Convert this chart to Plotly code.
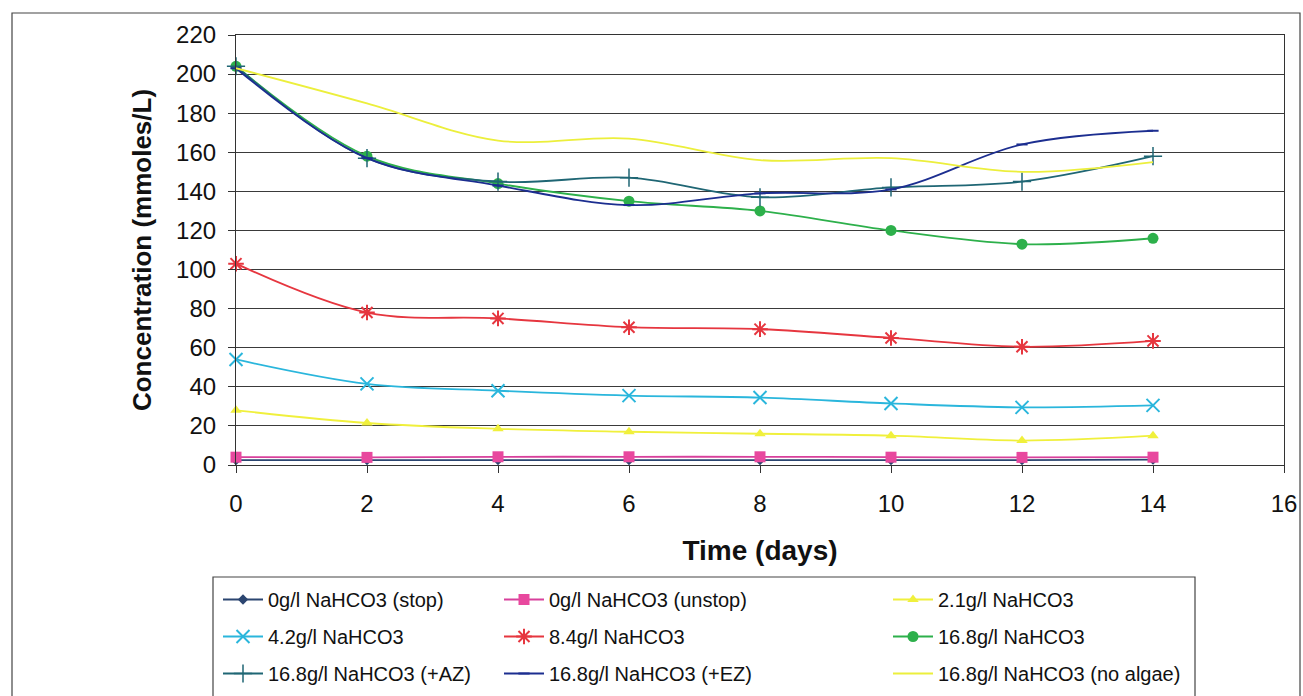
import plotly.graph_objects as go

# Sampling days
days = [0, 2, 4, 6, 8, 10, 12, 14]

# Concentration (mmoles/L) for each treatment
stop_0 = [2.5, 2.5, 2.5, 2.5, 2.5, 2.5, 2.5, 2.8]
unstop_0 = [4.0, 3.9, 4.2, 4.2, 4.2, 4.0, 3.9, 4.0]
nahco3_21 = [28, 21.5, 18.5, 17, 16, 15, 12.5, 15]
nahco3_42 = [54, 41.5, 38, 35.5, 34.5, 31.5, 29.5, 30.5]
nahco3_84 = [103, 78, 75, 70.5, 69.5, 65, 60.5, 63.5]
nahco3_168 = [204, 158, 144, 135, 130, 120, 113, 116]
nahco3_168_az = [204, 157, 145, 147, 137, 142, 145, 158]
nahco3_168_ez = [203, 157, 143, 133, 139, 141, 164, 171]
nahco3_168_noalgae = [203, 185, 166, 167, 156, 157, 150, 155]

names = [
    "0g/l NaHCO3 (stop)", "0g/l NaHCO3 (unstop)", "2.1g/l NaHCO3",
    "4.2g/l NaHCO3", "8.4g/l NaHCO3", "16.8g/l NaHCO3",
    "16.8g/l NaHCO3 (+AZ)", "16.8g/l NaHCO3 (+EZ)", "16.8g/l NaHCO3 (no algae)",
]
series = [stop_0, unstop_0, nahco3_21, nahco3_42, nahco3_84, nahco3_168,
          nahco3_168_az, nahco3_168_ez, nahco3_168_noalgae]

# (line colour, marker symbol, marker size, marker line width, marker colour)
styles = [
    ("#2B4570", "diamond", 8, 0, "#2B4570"),
    ("#D8409C", "square", 11, 0, "#E8489E"),
    ("#F0F03C", "triangle-up", 10, 0, "#F0F03C"),
    ("#2AB6DC", "x-thin-open", 13, 2, "#2AB6DC"),
    ("#E6363F", "asterisk-open", 13, 2, "#E6363F"),
    ("#2DB04B", "circle", 11, 0, "#2DB04B"),
    ("#1F6674", "cross-thin-open", 13, 1.5, "#1F6674"),
    ("#1C2E90", "line-ew-open", 8, 2, "#1C2E90"),
    ("#ECEF3C", None, 0, 0, "#ECEF3C"),
]

# three legend columns, filled row by row
legend_ids = ["legend", "legend2", "legend3"]

FONT = "Liberation Sans, Arial, sans-serif"

fig = go.Figure()
for i, (name, ys, st) in enumerate(zip(names, series, styles)):
    color, symbol, msize, mlw, mcolor = st
    kw = dict(
        x=days, y=ys, name=name,
        line=dict(color=color, width=1.8, shape="spline", smoothing=1.0),
        legend=legend_ids[i % 3], legendgroup=f"g{i}",
        cliponaxis=False,
    )
    if symbol is None:
        kw["mode"] = "lines"
    else:
        kw["mode"] = "lines+markers"
        kw["marker"] = dict(symbol=symbol, size=msize, color=mcolor,
                            line=dict(width=mlw, color=mcolor))
    fig.add_trace(go.Scatter(**kw))

# Plot area geometry in pixels
W, H = 1303, 696
L, R, T, B = 236, 1284, 35, 465
pw, ph = R - L, B - T


def px(xp):
    return (xp - L) / pw


def py(yp):
    return (B - yp) / ph


legend_common = dict(
    bgcolor="rgba(0,0,0,0)", borderwidth=0,
    font=dict(family=FONT, size=20, color="#111"),
    yanchor="top", xanchor="left", y=py(580),
    traceorder="grouped", tracegroupgap=8, itemwidth=40,
)

fig.update_layout(
    width=W, height=H,
    margin=dict(l=L, r=W - R, t=T, b=H - B, pad=0, autoexpand=False),
    paper_bgcolor="white", plot_bgcolor="white",
    font=dict(family=FONT, color="#111"),
    legend=dict(x=px(218), **legend_common),
    legend2=dict(x=px(499), **legend_common),
    legend3=dict(x=px(888), **legend_common),
    xaxis=dict(
        range=[0, 16], dtick=2, tick0=0,
        showgrid=False, zeroline=False,
        showline=True, linecolor="#333", linewidth=1.2, mirror=True,
        ticks="outside", ticklen=7, tickcolor="#333",
        ticklabelstandoff=10,
        tickfont=dict(family=FONT, size=24, color="#111"),
        title=dict(text="<b>Time (days)</b>", font=dict(family=FONT, size=28, color="#111"),
                   standoff=24),
    ),
    yaxis=dict(
        range=[0, 220], dtick=20, tick0=0,
        showgrid=True, gridcolor="#3a3a3a", gridwidth=1,
        zeroline=False,
        showline=True, linecolor="#333", linewidth=1.2, mirror=True,
        ticks="outside", ticklen=7, tickcolor="#333",
        ticklabelstandoff=7,
        tickfont=dict(family=FONT, size=24, color="#111"),
        title=dict(text="<b>Concentration (mmoles/L)</b>",
                   font=dict(family=FONT, size=26, color="#111"), standoff=16),
    ),
    showlegend=True,
)

# Chart-area frame and legend frame
fig.add_shape(type="rect", xref="paper", yref="paper",
              x0=px(12), x1=px(1300), y0=py(720), y1=py(13),
              line=dict(color="#444", width=1.2), layer="below")
fig.add_shape(type="rect", xref="paper", yref="paper",
              x0=px(213), x1=px(1195), y0=py(720), y1=py(577),
              line=dict(color="#444", width=1.2), layer="below")

fig.write_html("out.html")
